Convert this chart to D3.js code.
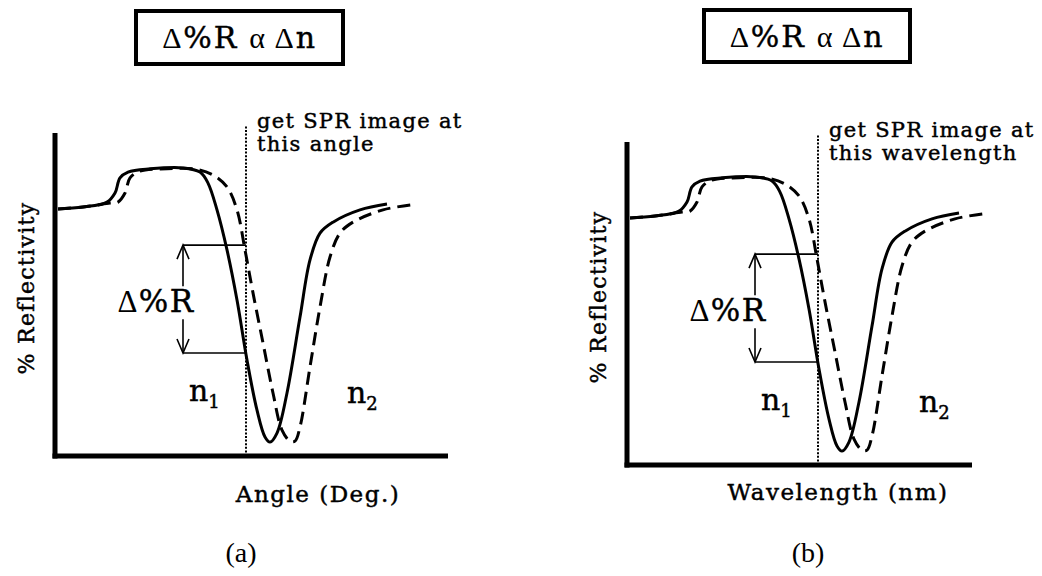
<!DOCTYPE html>
<html>
<head>
<meta charset="utf-8">
<script src="https://cdn.jsdelivr.net/npm/d3@7"></script>
<style>
  html, body { margin: 0; padding: 0; background: #fff; }
  svg { display: block; }
  .serif { font-family: "DejaVu Serif", serif; stroke: #000; stroke-width: 0.45px; }
  .times { font-family: "Liberation Serif", "Times New Roman", serif; }
</style>
</head>
<body>
<svg id="chart" width="1042" height="576"></svg>
<script>
// Reflectivity curves (x: angle/wavelength units 0-100, y: % reflectivity 0-100)
const solidX  = [0.75, 7, 13, 15, 16.25, 18.25, 23.75, 32, 36.25, 38.25, 40.5, 43, 45.5, 48, 50.5, 52.5, 53.75, 55.5, 58, 61.25, 63.75, 66.25, 69.5, 76.25, 83];
const solidY  = [76.5, 77.1, 78.6, 81.4, 86.1, 87.9, 88.9, 89.2, 87.9, 84.5, 76.2, 63.8, 48.3, 29.7, 14.2, 5.9, 4.3, 7.1, 19.5, 43.0, 60.7, 69.0, 72.4, 76.2, 78.0];
const dashedX = [0.75, 7, 13.75, 15.75, 17.5, 18.75, 21.25, 28, 34.5, 39.5, 43, 45.5, 47.5, 49.5, 52, 54.5, 56.75, 58.75, 60, 61.25, 63.75, 66.25, 68.75, 71.25, 74.5, 82, 90.5];
const dashedY = [76.5, 77.1, 78.3, 78.6, 81.4, 86.1, 88.2, 88.9, 88.9, 87.0, 83.3, 76.2, 63.8, 50.5, 35.0, 19.5, 8.0, 4.6, 4.6, 9.0, 27.6, 46.1, 61.6, 69.0, 72.4, 76.2, 78.0];

// Fixed readout position and the two reflectivity levels read there
const readoutX = 47.75;
const readoutLevels = [31.9, 65.3];

// Text
const panelTags    = ["(a)", "(b)"];
const xAxisTitles  = ["Angle (Deg.)", "Wavelength (nm)"];
const yAxisTitle   = "% Reflectivity";
const readoutNotes = [["get SPR image at", "this angle"], ["get SPR image at", "this wavelength"]];

const svg = d3.select("#chart");

// Per-panel layout
const panels = [
  { ox: 55,  oy: 456, xMax: 98.25, boxX: 136, boxY: 11, boxW: 207, boxH: 53,
    xTitleX: 318, xTitleY: 502, tagX: 241, tagY: 562, noteY: 128 },
  { ox: 627, oy: 465, xMax: 86.25, boxX: 704, boxY: 10, boxW: 206, boxH: 52,
    xTitleX: 838, xTitleY: 500, tagX: 808, tagY: 562, noteY: 137 }
];

panels.forEach((p, i) => {
  const g = svg.append("g");
  const x = d3.scaleLinear().domain([0, 100]).range([p.ox, p.ox + 400]);
  const y = d3.scaleLinear().domain([0, 100]).range([p.oy, p.oy - 323]);

  // Title box: Δ%R α Δn
  g.append("rect")
    .attr("x", p.boxX).attr("y", p.boxY)
    .attr("width", p.boxW).attr("height", p.boxH)
    .attr("fill", "#fff").attr("stroke", "#000").attr("stroke-width", 4);
  const t = g.append("text")
    .attr("x", p.boxX + p.boxW / 2).attr("y", p.boxY + 37)
    .attr("text-anchor", "middle")
    .attr("font-size", 30).attr("letter-spacing", 1.8);
  t.append("tspan").attr("class", "times").text("Δ");
  t.append("tspan").attr("class", "serif").text("%R ");
  t.append("tspan").attr("class", "times").text(" α Δ");
  t.append("tspan").attr("class", "serif").text("n");

  // Axes (bare lines, no ticks)
  g.append("line")
    .attr("x1", x(0)).attr("x2", x(0))
    .attr("y1", y(0) + 2.5).attr("y2", y(100))
    .attr("stroke", "#000").attr("stroke-width", 5);
  g.append("line")
    .attr("x1", x(0) - 2.5).attr("x2", x(p.xMax))
    .attr("y1", y(0)).attr("y2", y(0))
    .attr("stroke", "#000").attr("stroke-width", 5);

  // Readout position (dotted)
  g.append("line")
    .attr("x1", x(readoutX)).attr("x2", x(readoutX))
    .attr("y1", y(0)).attr("y2", y(102))
    .attr("stroke", "#000").attr("stroke-width", 2)
    .attr("stroke-dasharray", "2,1.6");

  // Curves
  const line = d3.line()
    .x(d => x(d[0])).y(d => y(d[1]))
    .curve(d3.curveCatmullRom.alpha(0.5));
  g.append("path")
    .datum(dashedX.map((v, k) => [v, dashedY[k]]))
    .attr("d", line)
    .attr("fill", "none").attr("stroke", "#000").attr("stroke-width", 3)
    .attr("stroke-dasharray", "13,7");
  g.append("path")
    .datum(solidX.map((v, k) => [v, solidY[k]]))
    .attr("d", line)
    .attr("fill", "none").attr("stroke", "#000").attr("stroke-width", 3);

  // Δ%R bracket: horizontal leaders and double arrow
  const arrowX = x(32);
  readoutLevels.forEach(r => {
    g.append("line")
      .attr("x1", arrowX).attr("x2", x(readoutX))
      .attr("y1", y(r)).attr("y2", y(r))
      .attr("stroke", "#000").attr("stroke-width", 1.6);
  });
  const yLo = y(readoutLevels[0]), yHi = y(readoutLevels[1]);
  g.append("line")
    .attr("x1", arrowX).attr("x2", arrowX)
    .attr("y1", yHi).attr("y2", yLo)
    .attr("stroke", "#000").attr("stroke-width", 1.6);
  g.append("path")
    .attr("d", `M${arrowX - 6},${yHi + 14}L${arrowX},${yHi}L${arrowX + 6},${yHi + 14}` +
               `M${arrowX - 6},${yLo - 14}L${arrowX},${yLo}L${arrowX + 6},${yLo - 14}`)
    .attr("fill", "none").attr("stroke", "#000").attr("stroke-width", 1.6);

  // Δ%R label with a white backing so the arrow shaft breaks around it
  const lbl = g.append("text")
    .attr("x", x(25.25)).attr("y", y(44.5))
    .attr("text-anchor", "middle")
    .attr("font-size", 31).attr("letter-spacing", 1.5);
  lbl.append("tspan").attr("class", "times").text("Δ");
  lbl.append("tspan").attr("class", "serif").text("%R");
  const bb = lbl.node().getBBox();
  g.insert("rect", function () { return lbl.node(); })
    .attr("x", bb.x).attr("y", bb.y + 3)
    .attr("width", bb.width).attr("height", bb.height - 3)
    .attr("fill", "#fff");

  // Refractive index labels
  [["n", "1", 33.5, 17], ["n", "2", 73, 16.3]].forEach(([base, sub, nx, ny]) => {
    const nt = g.append("text").attr("class", "serif")
      .attr("x", x(nx)).attr("y", y(ny)).attr("font-size", 30);
    nt.append("tspan").text(base);
    nt.append("tspan").attr("font-size", 18).attr("dy", 7).text(sub);
  });

  // Readout note
  readoutNotes[i].forEach((s, k) => {
    g.append("text").attr("class", "serif")
      .attr("x", x(readoutX) + 11).attr("y", p.noteY + k * 23)
      .attr("font-size", 21).attr("letter-spacing", 1.3).text(s);
  });

  // Axis titles
  g.append("text").attr("class", "serif")
    .attr("transform", `translate(${p.ox - 21},${p.oy - 168}) rotate(-90)`)
    .attr("text-anchor", "middle").attr("font-size", 22).attr("letter-spacing", 1.3)
    .text(yAxisTitle);
  g.append("text").attr("class", "serif")
    .attr("x", p.xTitleX).attr("y", p.xTitleY)
    .attr("text-anchor", "middle").attr("font-size", 23).attr("letter-spacing", 1.5)
    .text(xAxisTitles[i]);

  // Panel tag
  g.append("text").attr("class", "times")
    .attr("x", p.tagX).attr("y", p.tagY)
    .attr("text-anchor", "middle").attr("font-size", 28)
    .text(panelTags[i]);
});
</script>
</body>
</html>
